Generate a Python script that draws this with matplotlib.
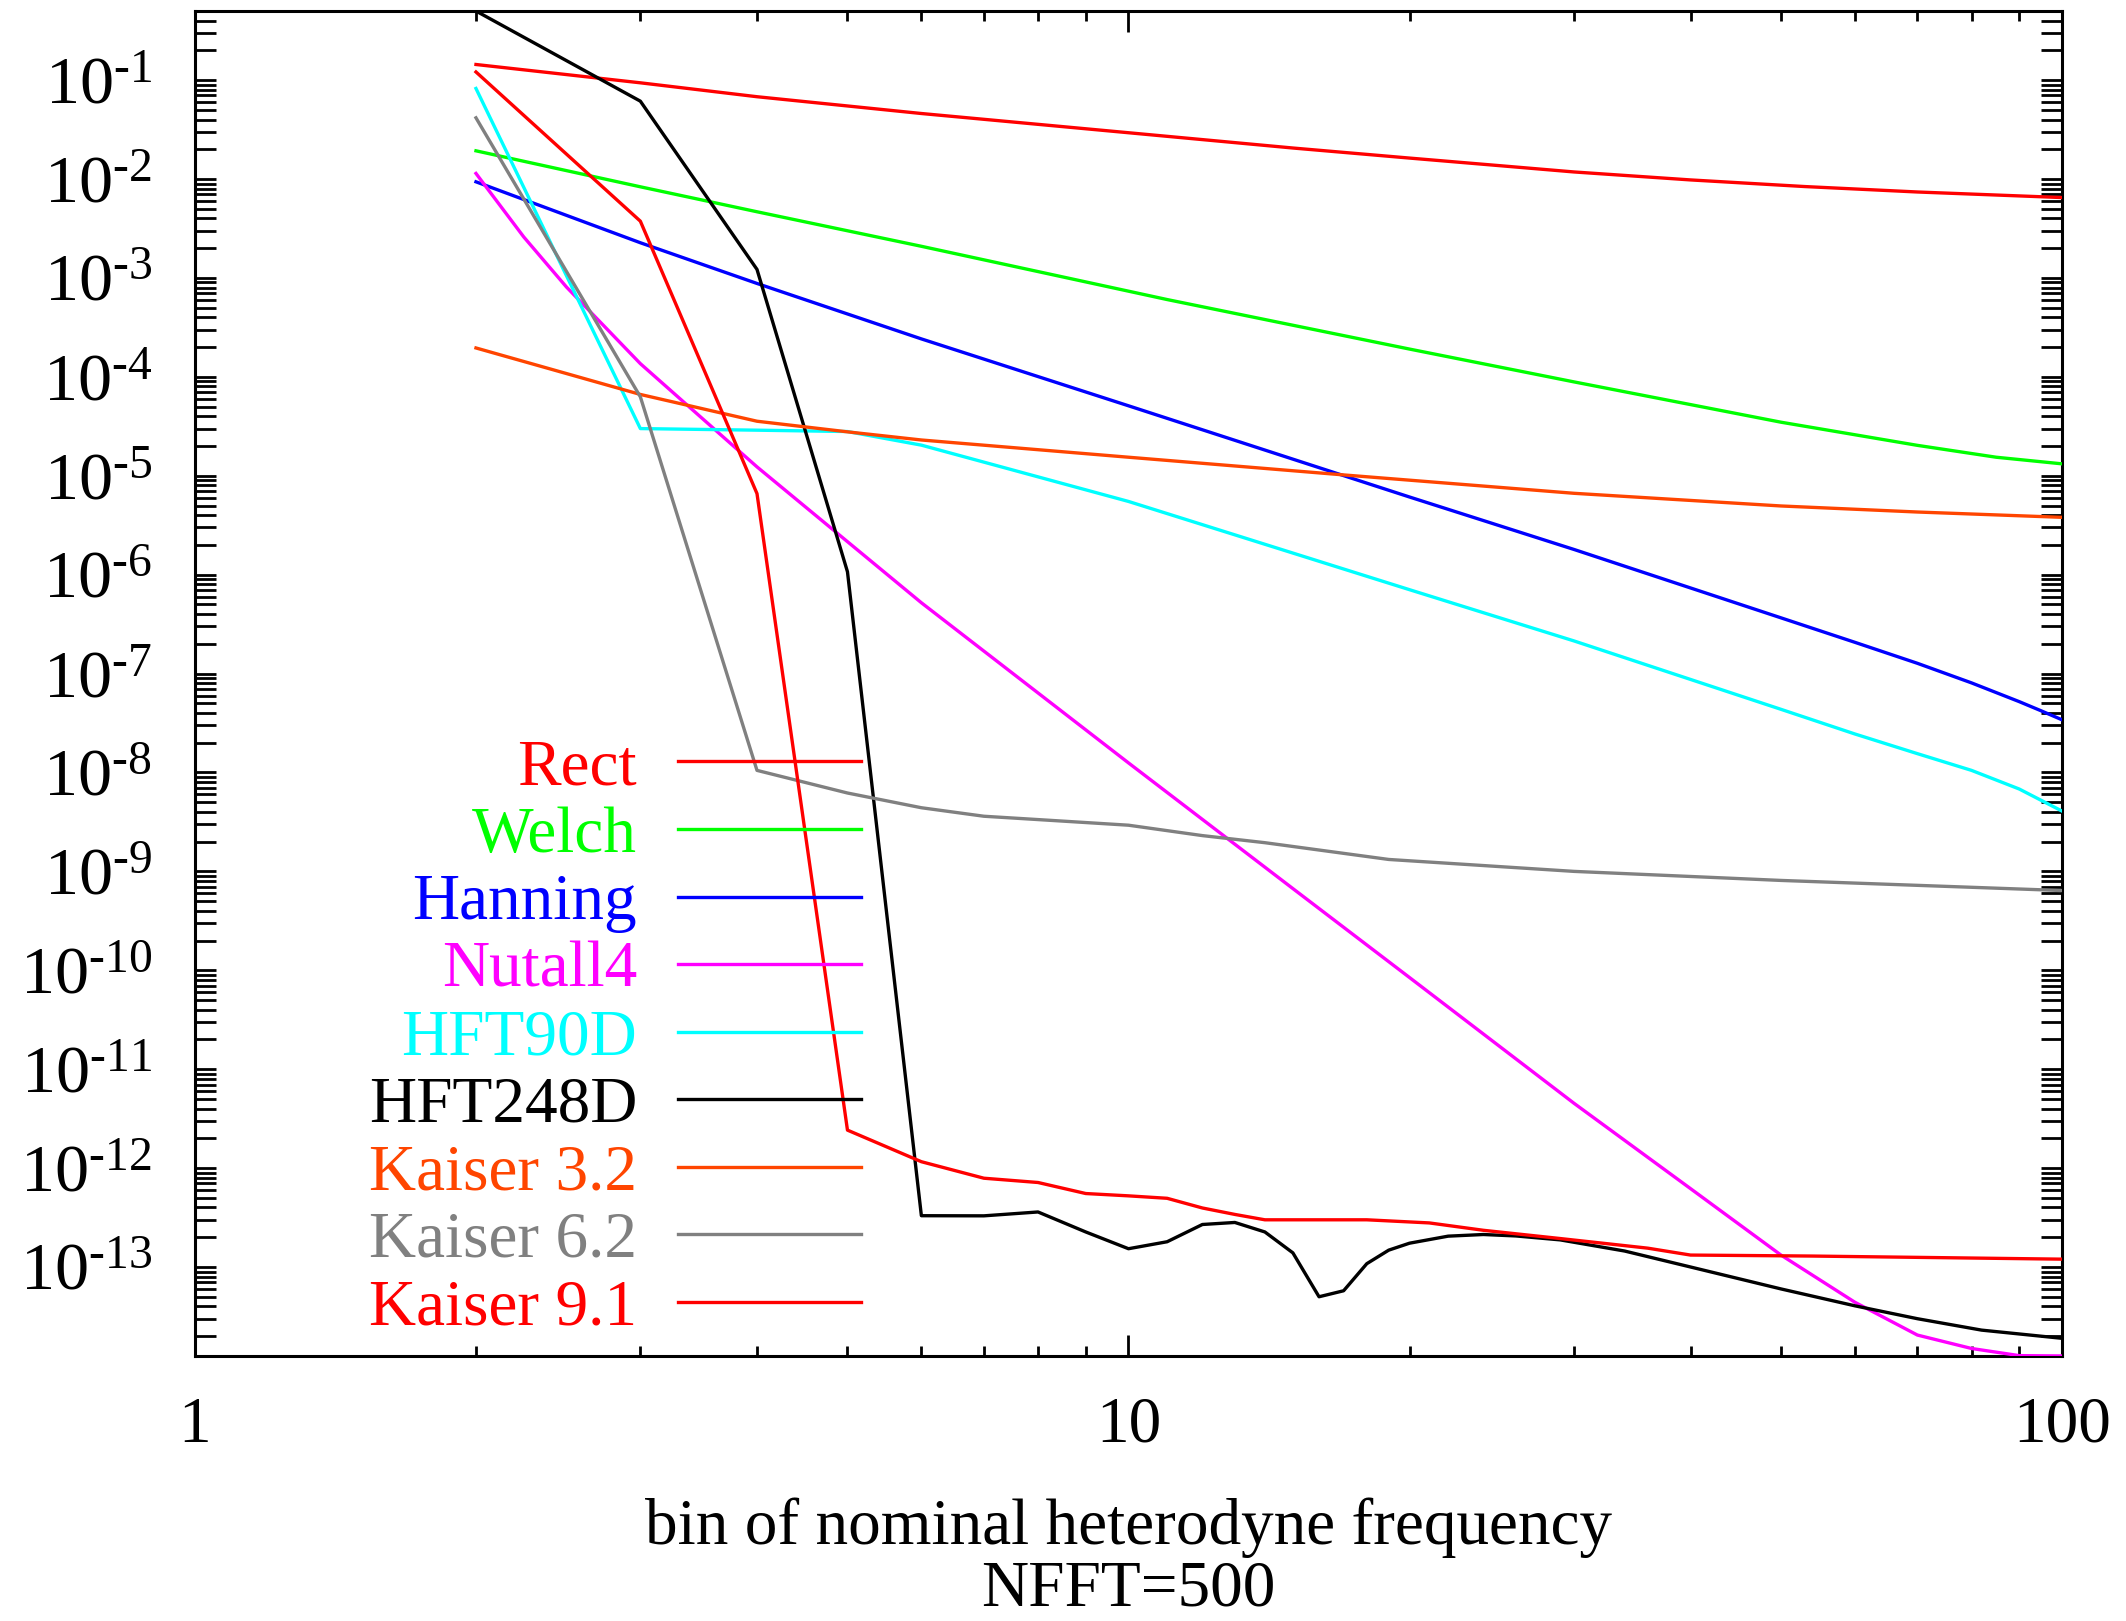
import matplotlib
matplotlib.use("Agg")
import matplotlib.pyplot as plt
from matplotlib.ticker import LogLocator, NullFormatter, FuncFormatter
import numpy as np

plt.rcParams['font.family'] = ['Liberation Serif', 'DejaVu Serif']
plt.rcParams['mathtext.fontset'] = 'custom'
plt.rcParams['mathtext.rm'] = 'Liberation Serif'
plt.rcParams['mathtext.it'] = 'Liberation Serif:italic'
plt.rcParams['mathtext.bf'] = 'Liberation Serif:bold'

# leakage per window (x = bin, y = power)
rect_x = [2, 3, 4, 6, 10, 15, 20, 25, 30, 40, 53, 70, 100]
rect_y = [0.144, 0.094, 0.068, 0.046, 0.0294, 0.0206, 0.0163, 0.01365, 0.0118, 0.0098,
          0.0084, 0.0074, 0.0065]

welch_x = [2, 3, 4, 6, 11, 20, 30, 50, 70, 85, 100]
welch_y = [0.0193, 8.35e-3, 4.67e-3, 2.09e-3, 6.05e-4, 1.91e-4, 8.9e-5, 3.48e-5, 2.03e-5, 1.54e-5, 1.32e-5]

hann_x = [2, 3, 4, 6, 10, 20, 30, 50, 60, 70, 80, 90, 95, 100]
hann_y = [9.38e-3, 2.27e-3, 8.8e-4, 2.42e-4, 5.1e-5, 6.1e-6, 1.8e-6, 3.66e-7, 2.07e-7,
          1.27e-7, 8.05e-8, 5.2e-8, 4.2e-8, 3.41e-8]

nut_x = [2, 2.25, 2.5, 3, 4, 6, 10, 15, 20, 30, 40, 50, 60, 70, 80, 90, 100]
nut_y = [0.0114, 2.6e-3, 8.1e-4, 1.36e-4, 1.23e-5, 5.2e-7, 1.25e-8, 6.7e-10, 8.45e-11,
         4.53e-12, 6.2e-13, 1.32e-13, 4.4e-14, 2.05e-14, 1.5e-14, 1.27e-14, 1.26e-14]

hft90_x = [2, 3, 4, 5, 6, 10, 20, 30, 50, 60, 70, 80, 90, 100]
hft90_y = [0.0824, 3.0e-5, 2.89e-5, 2.8e-5, 2.04e-5, 5.5e-6, 7.05e-7, 2.14e-7, 4.35e-8,
           2.45e-8, 1.55e-8, 1.05e-8, 6.8e-9, 4.07e-9]

hft248_x = [2, 3, 4, 5, 6, 7, 8, 9, 10, 11, 12, 13, 14, 15, 16, 17, 18, 19, 20,
            22, 24, 26, 29, 34, 40, 50, 60, 70, 82, 100]
hft248_y = [0.5, 0.0613, 1.22e-3, 1.07e-6, 3.3e-13, 3.29e-13, 3.6e-13, 2.26e-13, 1.53e-13,
            1.8e-13, 2.69e-13, 2.82e-13, 2.26e-13, 1.39e-13, 5.0e-14, 5.75e-14, 1.08e-13,
            1.48e-13, 1.74e-13, 2.05e-13, 2.13e-13, 2.06e-13, 1.88e-13, 1.45e-13, 1.0e-13,
            6.0e-14, 4.05e-14, 3.0e-14, 2.3e-14, 1.9e-14]

k32_x = [2, 3, 4, 5, 6, 10, 17, 30, 50, 70, 100]
k32_y = [1.96e-4, 6.64e-5, 3.56e-5, 2.78e-5, 2.3e-5, 1.54e-5, 1.02e-5, 6.65e-6, 4.95e-6, 4.3e-6, 3.8e-6]

k62_x = [2, 3, 4, 5, 6, 7, 8, 10, 12, 14, 19, 30, 50, 100]
k62_y = [0.0416, 6.28e-5, 1.05e-8, 6.2e-9, 4.4e-9, 3.61e-9, 3.34e-9, 2.93e-9, 2.3e-9,
         1.95e-9, 1.32e-9, 1.0e-9, 8.1e-10, 6.4e-10]

k91_x = [2, 3, 4, 5, 6, 7, 8, 9, 10, 11, 12, 13, 14, 18, 21, 24, 29, 36, 40, 54, 100]
k91_y = [0.121, 3.75e-3, 6.6e-6, 2.42e-12, 1.16e-12, 7.9e-13, 7.15e-13, 5.53e-13, 5.24e-13,
         4.95e-13, 3.95e-13, 3.4e-13, 3.0e-13, 3.0e-13, 2.79e-13, 2.35e-13, 1.94e-13,
         1.55e-13, 1.32e-13, 1.29e-13, 1.2e-13]

labels = ["Rect", "Welch", "Hanning", "Nutall4", "HFT90D", "HFT248D",
          "Kaiser 3.2", "Kaiser 6.2", "Kaiser 9.1"]
colors = ["#ff0000", "#00ff00", "#0000ff", "#ff00ff", "#00ffff", "#000000",
          "#ff4500", "#808080", "#ff0000"]
series = [(rect_x, rect_y), (welch_x, welch_y), (hann_x, hann_y), (nut_x, nut_y),
          (hft90_x, hft90_y), (hft248_x, hft248_y), (k32_x, k32_y), (k62_x, k62_y),
          (k91_x, k91_y)]

fs = 47
fig = plt.figure(figsize=(21.26, 16.21), dpi=100)
ax = fig.add_axes([0.0917, 0.1635, 0.8782, 0.8297])

for (xs, ys), lab, col in zip(series, labels, colors):
    ax.plot(xs, ys, color=col, lw=2.4, label=lab, zorder=3)

ax.set_xscale("log")
ax.set_yscale("log")
ax.set_xlim(1, 100)
ax.set_ylim(1.26e-14, 0.5)

# ticks inward on all four sides, gnuplot style
ax.xaxis.set_major_locator(LogLocator(base=10, numticks=10))
ax.xaxis.set_minor_locator(LogLocator(base=10, subs=np.arange(2, 10), numticks=10))
ax.xaxis.set_minor_formatter(NullFormatter())
ax.yaxis.set_major_locator(LogLocator(base=10, numticks=30))
ax.yaxis.set_minor_locator(LogLocator(base=10, subs=np.arange(2, 10), numticks=30))
ax.yaxis.set_minor_formatter(NullFormatter())
ax.xaxis.set_major_formatter(FuncFormatter(lambda v, p: "%d" % round(v)))
ax.yaxis.set_major_formatter(FuncFormatter(
    lambda v, p: r"$10^{\text{-}%d}$" % round(-np.log10(v))))

ax.tick_params(which="both", direction="in", top=True, right=True, width=2)
ax.tick_params(axis="y", which="both", length=15, pad=31, labelsize=49)
ax.tick_params(axis="x", which="major", length=15, pad=29, labelsize=fs)
ax.tick_params(axis="x", which="minor", length=7)
for sp in ax.spines.values():
    sp.set_linewidth(2.2)

ax.set_xlabel("bin of nominal heterodyne frequency\nNFFT=500", fontsize=fs,
              linespacing=1.05, labelpad=30)

leg = ax.legend(loc="center right", bbox_to_anchor=(0.3567, 0.236), frameon=False,
                markerfirst=False, fontsize=fs, handlelength=2.8, handletextpad=0.63,
                labelspacing=0.12, borderpad=0, borderaxespad=0)
for t, c in zip(leg.get_texts(), colors):
    t.set_color(c)

fig.savefig("out.png", dpi=100)
